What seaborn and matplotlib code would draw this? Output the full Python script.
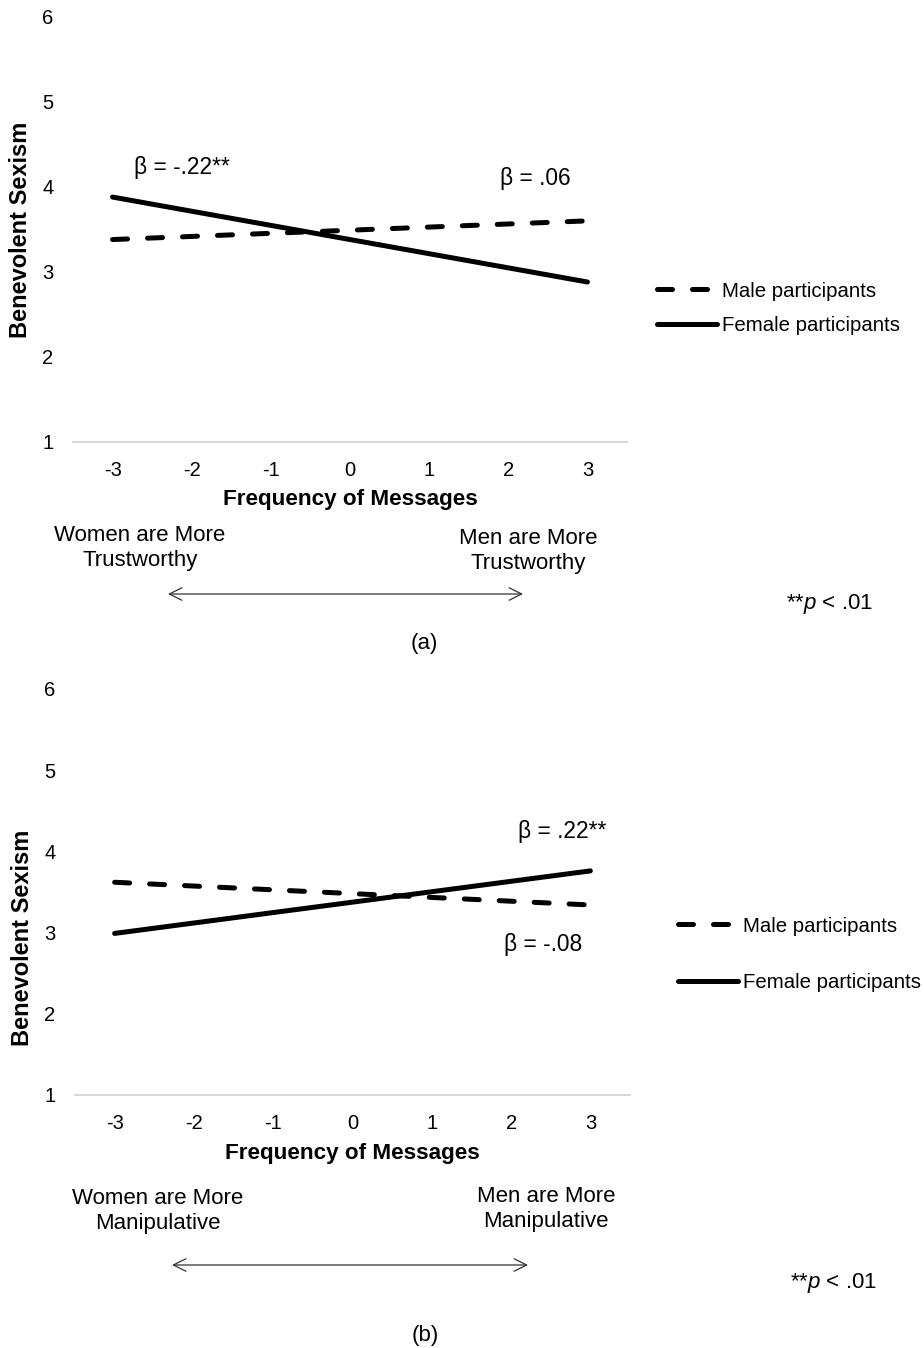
import matplotlib
matplotlib.use("Agg")
import matplotlib.pyplot as plt
import pandas as pd
import seaborn as sns

W, H = 924, 1348

# data
x_levels = [-3, 3]
x_ticks = [-3, -2, -1, 0, 1, 2, 3]
y_ticks = [1, 2, 3, 4, 5, 6]
groups = ["Male participants", "Female participants"]

a_male = [3.38, 3.60]
a_female = [3.88, 2.88]
b_male = [3.62, 3.34]
b_female = [2.99, 3.76]

a_betas = ["β = -.22**", "β = .06"]
b_betas = ["β = .22**", "β = -.08"]
a_ends = ["Women are More\nTrustworthy", "Men are More\nTrustworthy"]
b_ends = ["Women are More\nManipulative", "Men are More\nManipulative"]

FONT = ["Liberation Sans", "DejaVu Sans"]
LW = 3.6


def fx(px):
    return px / W


def fy(py):
    return 1 - py / H


def make_df(male, female):
    rows = []
    for g, vals in zip(groups, [male, female]):
        for x, v in zip(x_levels, vals):
            rows.append({"x": x, "value": v, "group": g})
    return pd.DataFrame(rows)


def panel(fig, box, male, female, betas, beta_pos, ends, end_pos, arrow, note_pos,
          tag, tag_pos, leg_pos, leg_space, ylab_y):
    left, top, right, bottom = box
    ax = fig.add_axes([fx(left), fy(bottom), fx(right - left), (bottom - top) / H])
    df = make_df(male, female)
    sns.lineplot(data=df, x="x", y="value", hue="group", style="group",
                 palette={g: "black" for g in groups},
                 dashes={"Male participants": (3, 4), "Female participants": ""},
                 linewidth=LW, legend=False, ax=ax,
                 solid_capstyle="round", dash_capstyle="round")

    ax.set_xlim(-3.5, 3.5)
    ax.set_ylim(1, 6)
    ax.set_xticks(x_ticks)
    ax.set_xticklabels([str(t) for t in x_ticks])
    ax.set_yticks(y_ticks)
    for s in ["top", "right", "left"]:
        ax.spines[s].set_visible(False)
    ax.spines["bottom"].set_color("#d9d9d9")
    ax.spines["bottom"].set_linewidth(1.5)
    ax.tick_params(axis="both", length=0, labelsize=14.5, colors="black")
    ax.tick_params(axis="y", pad=14)
    ax.tick_params(axis="x", pad=14)

    ax.set_xlabel("Frequency of Messages", fontsize=16.2, fontweight="bold")
    ax.xaxis.set_label_coords(0.5, -0.112 * 424.7 / (bottom - top))
    ax.set_ylabel("Benevolent Sexism", fontsize=17, fontweight="bold")
    ax.yaxis.set_label_coords(-0.074, ylab_y)

    for txt, (bx, by) in zip(betas, beta_pos):
        ax.text(bx, by, txt, fontsize=16.4, ha="center", va="center")

    lines = ax.get_lines()
    ax.legend(lines[:2], groups, loc="center left",
              bbox_to_anchor=(fx(leg_pos[0]), fy(leg_pos[1])),
              bbox_transform=fig.transFigure, frameon=False, fontsize=14.7,
              handlelength=2.94, handletextpad=0.25, labelspacing=leg_space,
              borderpad=0, borderaxespad=0)

    for txt, (px, py) in zip(ends, end_pos):
        fig.text(fx(px), fy(py + 2), txt, fontsize=16, ha="center", va="center",
                 multialignment="center", linespacing=1.3)

    x0, x1, ay = arrow
    ax.annotate("", xy=(fx(x0), fy(ay)), xytext=(fx(x1), fy(ay)),
                xycoords="figure fraction", textcoords="figure fraction",
                annotation_clip=False,
                arrowprops=dict(arrowstyle="<->,head_length=0.9,head_width=0.45",
                                color="#333333", lw=0.9, shrinkA=0, shrinkB=0))

    fig.text(fx(note_pos[0]), fy(note_pos[1]), r"**$\it{p}$ < .01", fontsize=16,
             ha="center", va="center")
    fig.text(fx(tag_pos[0]), fy(tag_pos[1]), tag, fontsize=16, ha="center", va="center")
    return ax


def main():
    sns.set_style("white")
    plt.rcParams["font.family"] = FONT
    plt.rcParams["text.color"] = "black"
    plt.rcParams["axes.labelcolor"] = "black"
    plt.rcParams["mathtext.fontset"] = "custom"
    plt.rcParams["mathtext.it"] = "Liberation Sans:italic"
    plt.rcParams["mathtext.rm"] = "Liberation Sans"

    fig = plt.figure(figsize=(W / 100, H / 100), dpi=100)

    panel(fig, (73, 17, 627, 441.7), a_male, a_female,
          a_betas, [(-2.12, 4.23), (2.34, 4.10)],
          a_ends, [(140, 546), (528, 549)], (168, 523, 594),
          (829, 604), "(a)", (424, 643), (657, 308.5), 0.78, 0.5)

    panel(fig, (75, 689, 630, 1095), b_male, b_female,
          b_betas, [(2.64, 4.24), (2.40, 2.85)],
          b_ends, [(158, 1209), (546, 1207)], (172, 528, 1265),
          (833, 1283), "(b)", (425, 1335), (678, 954.5), 1.86, 0.387)

    fig.savefig("out.png", dpi=100, facecolor="white")
    plt.close(fig)


if __name__ == "__main__":
    main()
